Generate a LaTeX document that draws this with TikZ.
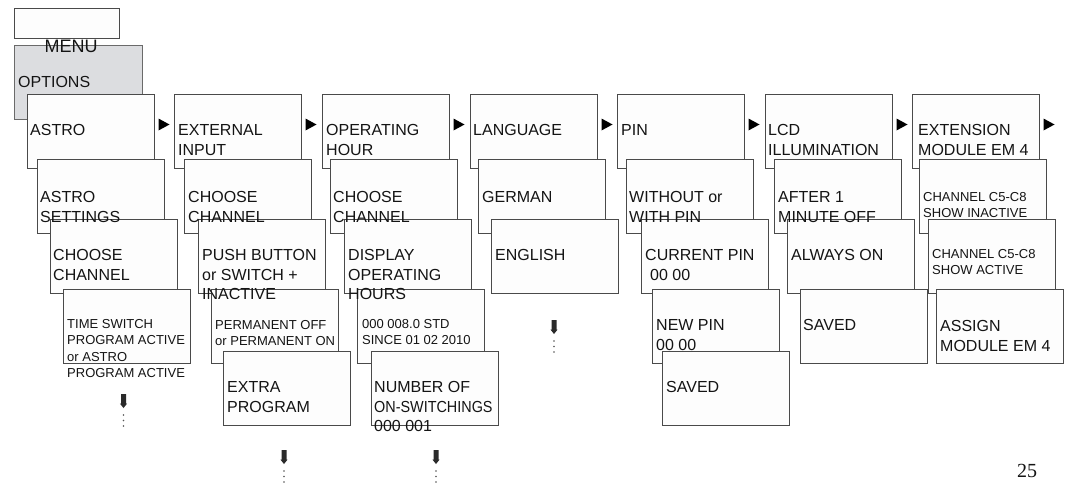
\documentclass[tikz,border=0pt]{standalone}
\usepackage{fontspec}
\setmainfont{Liberation Sans}
\newfontfamily\pagefont{Liberation Serif}
\usepackage{graphicx}
\usetikzlibrary{calc}
\definecolor{boxline}{HTML}{4A4A4A}
\definecolor{boxfill}{HTML}{FDFDFD}
\definecolor{greyfill}{HTML}{DCDDE0}
\definecolor{greyline}{HTML}{6A6A6A}
\definecolor{txt}{HTML}{141414}
\definecolor{arrcol}{HTML}{2A2A2A}
\definecolor{dotcol}{HTML}{555555}
\newcommand\mylines[1]{\begin{tabular}[t]{@{}l@{}}#1\end{tabular}}
\tikzset{
  scr/.style={draw=boxline, fill=boxfill, line width=0.8pt, anchor=north west,
    minimum width=127.5pt, minimum height=74.5pt, inner sep=0pt, outer sep=0pt},
  big/.style={font=\fontsize{16}{19.3}\selectfont, anchor=base west, text=txt, inner sep=0pt},
  small/.style={font=\fontsize{13}{16.3}\selectfont, anchor=base west, text=txt, inner sep=0pt},
  nexttri/.pic={\fill[black] (4,24.5) -- (4,36.5) -- (15,30.5) -- cycle;},
  dnarr/.pic={\fill[arrcol] (-2.5,0) -- (2.5,0) -- (2.5,9.5) -- (3.6,9.5) -- (0,14) -- (-3.6,9.5) -- (-2.5,9.5) -- cycle;
     \fill[dotcol] (0,21) circle (0.8) (0,26.5) circle (0.8) (0,32) circle (0.8);}
}
\begin{document}
\begin{tikzpicture}[x=1pt,y=-1pt]
\useasboundingbox[fill=white] (0,0) rectangle (1068,485);
% top-left boxes
\node[draw=boxline, fill=boxfill, line width=0.8pt, anchor=north west, minimum width=105pt, minimum height=30pt, inner sep=0pt] (top) at (14,8) {};
\node[draw=greyline, fill=greyfill, line width=0.8pt, anchor=north west, minimum width=128pt, minimum height=74pt, inner sep=0pt] (menu) at (14,45) {};
% row 1
\node[scr] (a1) at (27,94) {};
\node[scr] (b1) at (174,94) {};
\node[scr] (c1) at (322,94) {};
\node[scr] (d1) at (470,94) {};
\node[scr] (e1) at (617,94) {};
\node[scr] (f1) at (765,94) {};
\node[scr] (g1) at (912,94) {};
% row 2
\node[scr] (a2) at (37,159) {};
\node[scr] (b2) at (184,159) {};
\node[scr] (c2) at (330,159) {};
\node[scr] (d2) at (478,159) {};
\node[scr] (e2) at (626,159) {};
\node[scr] (f2) at (774,159) {};
\node[scr] (g2) at (919,159) {};
% row 3
\node[scr] (a3) at (50,219) {};
\node[scr] (b3) at (198,219) {};
\node[scr] (c3) at (344,219) {};
\node[scr] (d3) at (491,219) {};
\node[scr] (e3) at (641,219) {};
\node[scr] (f3) at (787,219) {};
\node[scr] (g3) at (928,219) {};
% row 4
\node[scr] (a4) at (63,289) {};
\node[scr] (b4) at (211,289) {};
\node[scr] (c4) at (357,289) {};
\node[scr] (e4) at (652,289) {};
\node[scr] (f4) at (800,289) {};
\node[scr] (g4) at (936,289) {};
% row 5
\node[scr] (b5) at (223,351) {};
\node[scr] (c5) at (371,351) {};
\node[scr] (e5) at (662,351) {};
% next triangles
\foreach \b in {a1,b1,c1,d1,e1,f1,g1} \pic at (\b.north east) {nexttri};
% texts
\node[font=\fontsize{18}{21}\selectfont, text=txt, anchor=base west] (tmenu) at (41,52.5) {MENU};
\node[big] (topt) at (18,87.2) {OPTIONS};
\node[big] (ta1) at ($(a1.north west)+(3,41.7)$) {ASTRO};
\node[big] (tb1) at ($(b1.north west)+(4,41.7)$) {\mylines{EXTERNAL\\INPUT}};
\node[big] (tc1) at ($(c1.north west)+(4,41.7)$) {\mylines{OPERATING\\HOUR}};
\node[big] (td1) at ($(d1.north west)+(3,41.7)$) {LANGUAGE};
\node[big] (te1) at ($(e1.north west)+(4,41.7)$) {PIN};
\node[big] (tf1) at ($(f1.north west)+(3,41.7)$) {\mylines{LCD\\ILLUMINATION}};
\node[big] (tg1) at ($(g1.north west)+(6,41.7)$) {\mylines{EXTENSION\\MODULE EM 4}};
\node[big] (ta2) at ($(a2.north west)+(3,43.7)$) {\mylines{ASTRO\\SETTINGS}};
\node[big] (tb2) at ($(b2.north west)+(4,43.7)$) {\mylines{CHOOSE\\CHANNEL}};
\node[big] (tc2) at ($(c2.north west)+(3,43.7)$) {\mylines{CHOOSE\\CHANNEL}};
\node[big] (td2) at ($(d2.north west)+(4,43.7)$) {GERMAN};
\node[big] (te2) at ($(e2.north west)+(3,43.7)$) {\mylines{WITHOUT or\\WITH PIN}};
\node[big] (tf2) at ($(f2.north west)+(4,43.7)$) {\mylines{AFTER 1\\MINUTE OFF}};
\node[small] (tg2) at ($(g2.north west)+(4,42.6)$) {\mylines{CHANNEL C5-C8\\SHOW INACTIVE}};
\node[big] (ta3) at ($(a3.north west)+(3,41.7)$) {\mylines{CHOOSE\\CHANNEL}};
\node[big] (tb3) at ($(b3.north west)+(4,41.7)$) {\mylines{PUSH BUTTON\\or SWITCH +\\INACTIVE}};
\node[big] (tc3) at ($(c3.north west)+(4,41.7)$) {\mylines{DISPLAY\\OPERATING\\HOURS}};
\node[big] (td3) at ($(d3.north west)+(4,41.7)$) {ENGLISH};
\node[big] (te3) at ($(e3.north west)+(4,41.7)$) {\mylines{CURRENT PIN\\\hspace*{5pt}00 00}};
\node[big] (tf3) at ($(f3.north west)+(4,41.7)$) {ALWAYS ON};
\node[small] (tg3) at ($(g3.north west)+(4,39.6)$) {\mylines{CHANNEL C5-C8\\SHOW ACTIVE}};
\node[small] (ta4) at ($(a4.north west)+(4,39.6)$) {\mylines{TIME SWITCH\\PROGRAM ACTIVE\\or ASTRO\\PROGRAM ACTIVE}};
\node[small] (tb4) at ($(b4.north west)+(4,40.6)$) {\mylines{PERMANENT OFF\\or PERMANENT ON}};
\node[small] (tc4) at ($(c4.north west)+(5,39.6)$) {\mylines{000 008.0 STD\\SINCE 01 02 2010}};
\node[big] (te4) at ($(e4.north west)+(4,41.7)$) {\mylines{NEW PIN\\00 00}};
\node[big] (tf4) at ($(f4.north west)+(3,41.7)$) {SAVED};
\node[big] (tg4) at ($(g4.north west)+(4,42.7)$) {\mylines{ASSIGN\\MODULE EM 4}};
\node[big] (tb5) at ($(b5.north west)+(4,41.7)$) {\mylines{EXTRA\\PROGRAM}};
\node[big] (tc5) at ($(c5.north west)+(3,41.7)$) {\mylines{NUMBER OF\\\scalebox{0.9}[1]{ON-SWITCHINGS}\\000 001}};
\node[big] (te5) at ($(e5.north west)+(4,41.7)$) {SAVED};
% continuation arrows
\coordinate (ca) at ($(a4.south west)+(60.5,30.5)$);
\coordinate (cb) at ($(b5.south west)+(61,24.5)$);
\coordinate (cd) at ($(d3.south west)+(63,26.5)$);
\coordinate (cc) at ($(c5.south west)+(65,24.5)$);
\foreach \c in {ca,cb,cd,cc} \pic at (\c) {dnarr};
% page number
\node[font=\pagefont\fontsize{20}{24}\selectfont, text=txt, anchor=base] (page) at (1027,477) {25};
\end{tikzpicture}
\end{document}
